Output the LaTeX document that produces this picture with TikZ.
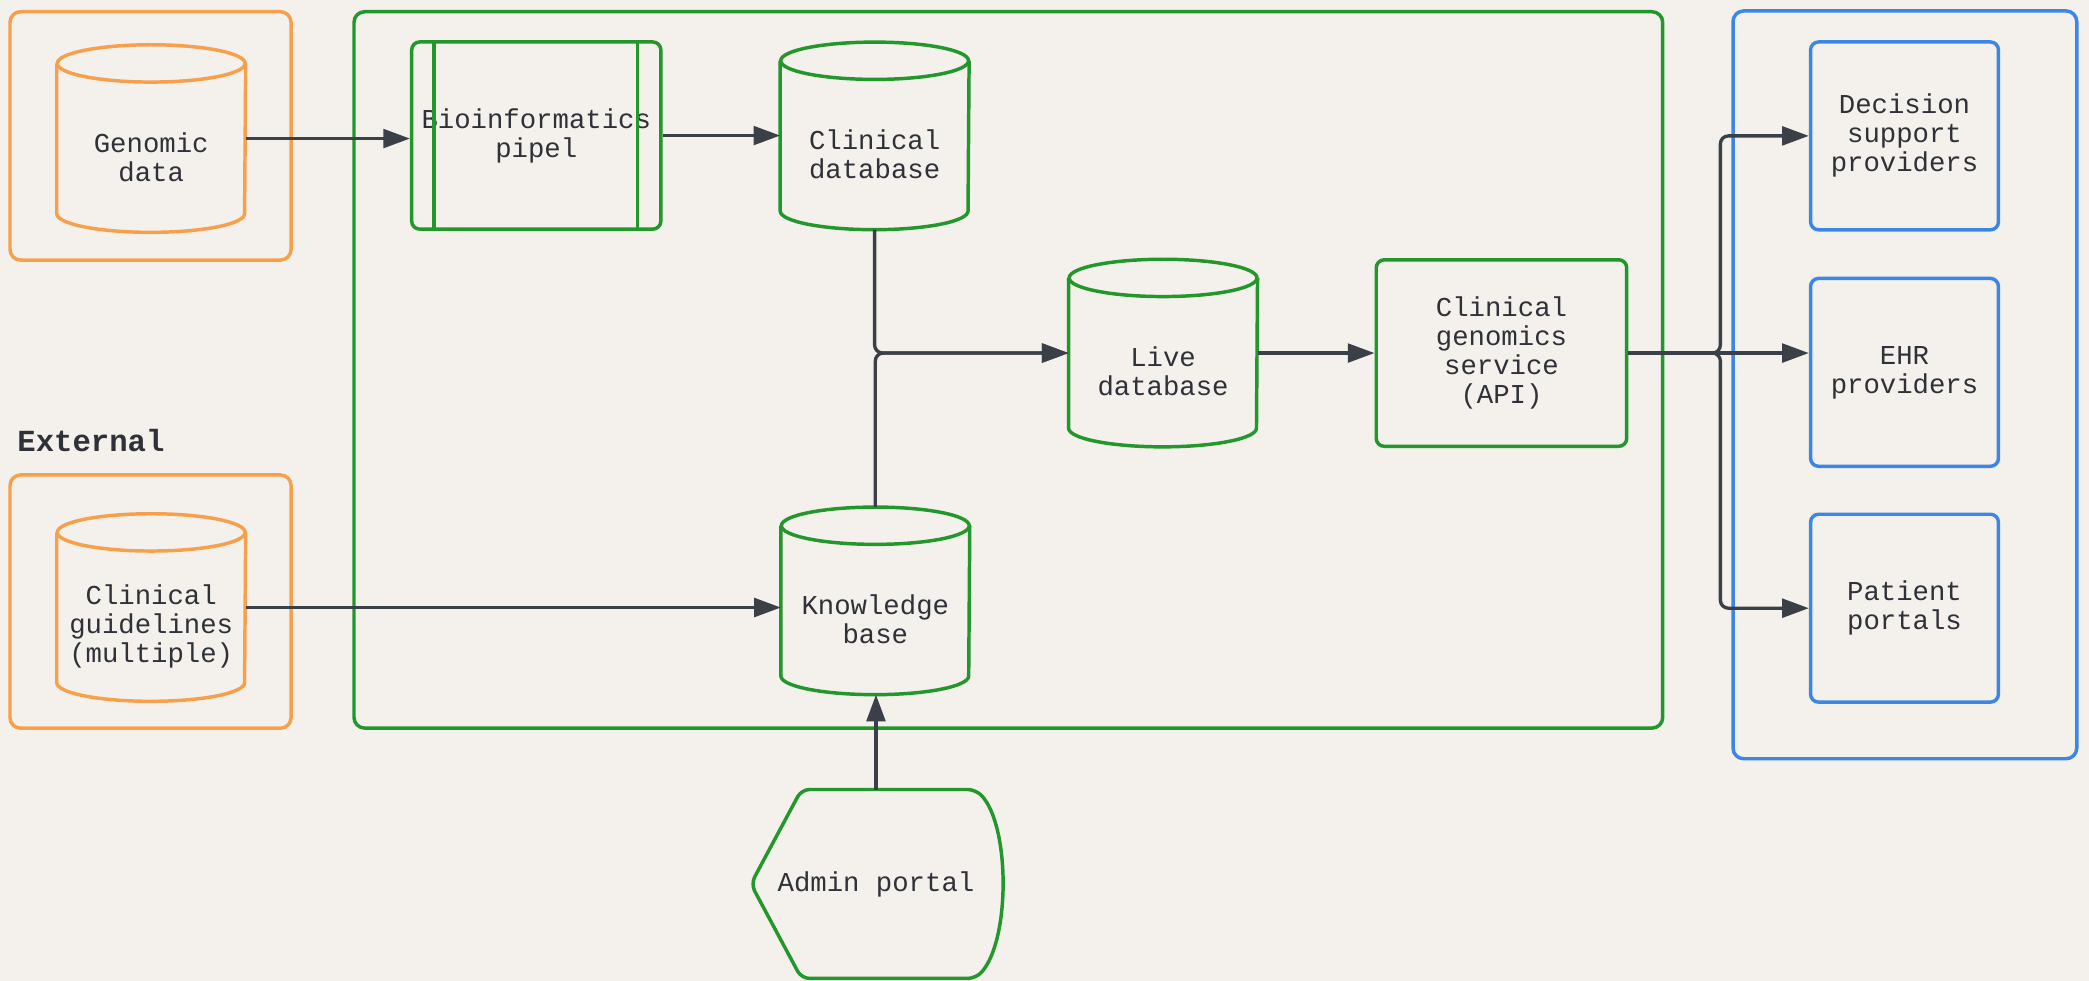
\documentclass[tikz,border=0pt]{standalone}
\usepackage{fontspec}
\setmonofont{Liberation Mono}
\usetikzlibrary{arrows.meta,calc}

\definecolor{bgc}{HTML}{F4F1EC}
\definecolor{extorange}{HTML}{F6A04B}
\definecolor{coregreen}{HTML}{23962C}
\definecolor{consblue}{HTML}{3C86E6}
\definecolor{wire}{HTML}{3A3F48}
\definecolor{ink}{HTML}{2E3138}

% cylinder outline around a (text-less) node: body plus top ellipse
\newcommand\drawcyl[2]{%
  \draw[#2, line width=1.3pt]
    ([yshift=-7pt]#1.north west) -- ([yshift=7pt]#1.south west)
    arc[start angle=180, end angle=360, x radius=35.25pt, y radius=7pt]
    -- ([yshift=-7pt]#1.north east);
  \draw[#2, line width=1.3pt]
    ([yshift=-7pt]#1.north) ellipse [x radius=35.25pt, y radius=7pt];
}

\begin{document}
\begin{tikzpicture}[x=0.5pt, y=0.5pt,
  every node/.style={font=\ttfamily\fontsize{10.25pt}{10.9pt}\selectfont, text=ink, align=center},
  frame/.style={line width=1.3pt, rounded corners=4pt},
  cyl/.style={rectangle, minimum width=70.5pt, minimum height=70pt, inner sep=0pt},
  cyltext/.style={yshift=-7pt, align=center},
  box/.style={draw, rectangle, rounded corners=3pt, line width=1.3pt,
              minimum width=70.5pt, minimum height=70.5pt, inner sep=0pt},
  conn/.style={draw=wire, line width=1.25pt, -{Triangle[length=10pt,width=7pt]}},
]
\useasboundingbox (0,0) rectangle (1568,736);
\fill[bgc] (0,0) rectangle (1568,736);

% group frames
\draw[frame, extorange] (7.5,727.2) rectangle (218.5,540.8);
\draw[frame, extorange] (7.5,379.5) rectangle (218.5,189.4);
\draw[frame, coregreen] (265.7,727.2) rectangle (1248,189.5);
\draw[frame, consblue] (1300.8,727.8) rectangle (1558.8,166.5);

\node[font=\ttfamily\bfseries\fontsize{11.5pt}{12pt}\selectfont, anchor=west] (ext) at (6,405) {External};

% data stores
\node[cyl, label={[cyltext]center:{Genomic\\data}}] (gen) at (113.5,632) {};
\node[cyl, label={[cyltext]center:{Clinical\\guidelines\\(multiple)}}] (cg) at (113.5,280) {};
\node[cyl, label={[cyltext]center:{Clinical\\database}}] (cdb) at (656.5,634) {};
\node[cyl, label={[cyltext]center:{Live\\database}}] (live) at (873,471) {};
\node[cyl, label={[cyltext]center:{Knowledge\\base}}] (kb) at (657,285) {};
\drawcyl{gen}{extorange}
\drawcyl{cg}{extorange}
\drawcyl{cdb}{coregreen}
\drawcyl{live}{coregreen}
\drawcyl{kb}{coregreen}

% processes and services
\node[box, draw=coregreen, minimum width=93.5pt, minimum height=70.25pt] (bio) at (402.5,634.25) {Bioinformatics\\pipel};
\draw[coregreen, line width=1.3pt] ([xshift=9pt]bio.north west) -- ([xshift=9pt]bio.south west);
\draw[coregreen, line width=1.3pt] ([xshift=-9.5pt]bio.north east) -- ([xshift=-9.5pt]bio.south east);
\node[box, draw=coregreen, minimum width=94pt, minimum height=70pt] (api) at (1127,471) {Clinical\\genomics\\service\\(API)};

% consumers
\node[box, draw=consblue] (dec) at (1429.5,634) {Decision\\support\\providers};
\node[box, draw=consblue] (ehr) at (1429.5,456.5) {EHR\\providers};
\node[box, draw=consblue] (pat) at (1429.5,279.5) {Patient\\portals};

% admin portal (display shape)
\node[rectangle, minimum width=93.5pt, minimum height=70.5pt, inner sep=0pt] (admin) at (657.5,72.5) {Admin portal};
\draw[coregreen, line width=1.3pt, rounded corners=3pt]
  (admin.west) -- ([xshift=19pt]admin.north west) -- ([xshift=-9.5pt]admin.north east)
  .. controls ([xshift=3.5pt,yshift=-13.5pt]admin.north east) and ([xshift=3.5pt,yshift=14pt]admin.south east)
  .. ([xshift=-9.5pt]admin.south east) -- ([xshift=19pt]admin.south west) -- cycle;

% connectors
\draw[conn] (gen.east) -- (gen.east -| bio.west);
\draw[conn] (bio.east) -- (bio.east -| cdb.west);
\draw[conn, rounded corners=3pt] (cdb.south) |- (live.west);
\draw[conn, rounded corners=3pt] (kb.north) |- (live.west);
\draw[conn] (live.east) -- (live.east -| api.west);
\path (api.east) ++(69,0) coordinate (fork);
\draw[conn, rounded corners=3pt] (api.east) -- (fork) |- (dec.west);
\draw[conn] (api.east) -- (api.east -| ehr.west);
\draw[conn, rounded corners=3pt] (api.east) -- (fork) |- (pat.west);
\draw[conn] (cg.east) -- (cg.east -| kb.west);
\draw[conn] (admin.north) -- (admin.north |- kb.south);
\end{tikzpicture}
\end{document}
